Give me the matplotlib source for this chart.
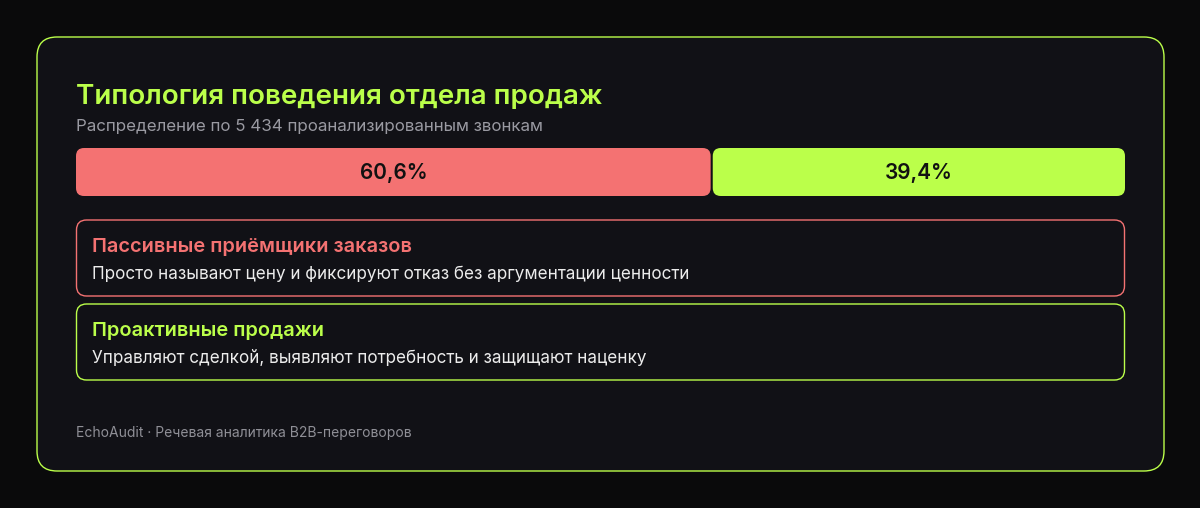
import matplotlib
matplotlib.use("Agg")
import matplotlib.pyplot as plt
from matplotlib.patches import FancyBboxPatch

plt.rcParams["font.family"] = ["Inter", "DejaVu Sans"]

# data
title = "Типология поведения отдела продаж"
subtitle = "Распределение по 5 434 проанализированным звонкам"
shares = [60.6, 39.4]
share_labels = ["60,6%", "39,4%"]
group_names = ["Пассивные приёмщики заказов", "Проактивные продажи"]
group_descs = [
    "Просто называют цену и фиксируют отказ без аргументации ценности",
    "Управляют сделкой, выявляют потребность и защищают наценку",
]
footer = "EchoAudit · Речевая аналитика B2B-переговоров"

BG = "#0a0a0b"
CARD = "#111116"
LIME = "#bbff4a"
RED = "#f47272"
W, H = 1200, 508

fig = plt.figure(figsize=(W / 100, H / 100), dpi=100, facecolor=BG)
ax = fig.add_axes([0, 0, 1, 1])
ax.set_xlim(0, W)
ax.set_ylim(H, 0)
ax.axis("off")

# card
ax.add_patch(FancyBboxPatch((37, 37), 1127, 434, boxstyle="round,pad=0,rounding_size=20",
                            facecolor=CARD, edgecolor=LIME, linewidth=1))

ax.text(76, 97, title, color=LIME, fontsize=20, fontweight="semibold", va="center", ha="left")
ax.text(76, 127, subtitle, color="#9a9aa2", fontsize=12.2, va="center", ha="left")

# stacked share bar in its own axes (0..100 scale)
bx0, bx1, by0, by1 = 76, 1125, 148, 196
bax = fig.add_axes([bx0 / W, 1 - by1 / H, (bx1 - bx0) / W, (by1 - by0) / H])
bax.set_xlim(0, 100)
bax.set_ylim(0, 1)
bax.axis("off")
px_per_x = (bx1 - bx0) / 100
px_per_y = by1 - by0
rad = 8 / px_per_x
aspect = (1 / px_per_y) / (1 / px_per_x)
left = 0
colors = [RED, LIME]
for i, (v, lab) in enumerate(zip(shares, share_labels)):
    l = left + (0.1 if i > 0 else 0)
    r = left + v - (0.1 if i < len(shares) - 1 else 0)
    bax.add_patch(FancyBboxPatch((l, 0), r - l, 1, boxstyle=f"round,pad=0,rounding_size={rad}",
                                 mutation_aspect=aspect, facecolor=colors[i], edgecolor="none"))
    bax.text(left + v / 2, 0.47, lab, color="#111111", fontsize=15, fontweight="semibold",
             ha="center", va="center")
    left += v

# group boxes
box_tops = [220, 304]
for top, name, desc, c in zip(box_tops, group_names, group_descs, colors):
    ax.add_patch(FancyBboxPatch((76.5, top), 1048, 76, boxstyle="round,pad=0,rounding_size=10",
                                facecolor=CARD, edgecolor=c, linewidth=1))
    ax.text(92, top + 27, name, color=c, fontsize=14.4, fontweight="semibold", va="center", ha="left")
    ax.text(92, top + 55, desc, color="#ececec", fontsize=12.3, va="center", ha="left")

ax.text(76, 433, footer, color="#8f8f96", fontsize=10, va="center", ha="left")

fig.savefig("out.png", dpi=100, facecolor=BG)
